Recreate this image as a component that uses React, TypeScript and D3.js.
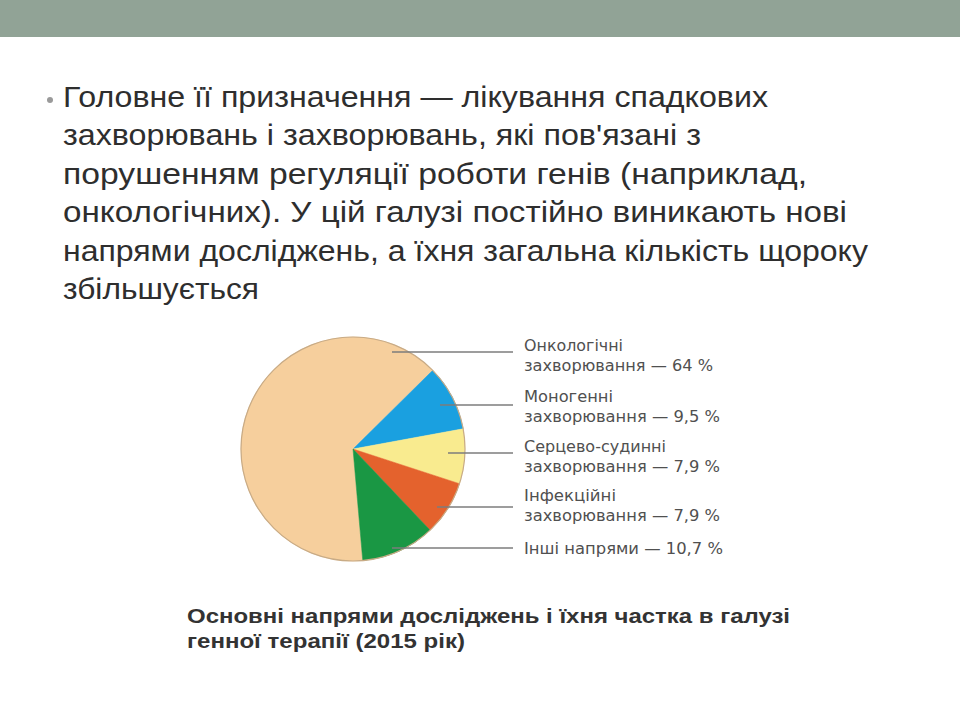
import React from "react";
import * as d3 from "d3";

const bodyLines = [
  "Головне її призначення — лікування спадкових",
  "захворювань і захворювань, які пов'язані з",
  "порушенням регуляції роботи генів (наприклад,",
  "онкологічних). У цій галузі постійно виникають нові",
  "напрями досліджень, а їхня загальна кількість щороку",
  "збільшується",
];
const bodyWidths = [705, 638, 744, 784, 805, 196];

const categories = [
  "Онкологічні захворювання",
  "Моногенні захворювання",
  "Серцево-судинні захворювання",
  "Інфекційні захворювання",
  "Інші напрями",
];
const values = [64, 9.5, 7.9, 7.9, 10.7];
const valueLabels = ["64", "9,5", "7,9", "7,9", "10,7"];
const labelLines: string[][] = [
  ["Онкологічні", "захворювання — 64 %"],
  ["Моногенні", "захворювання — 9,5 %"],
  ["Серцево-судинні", "захворювання — 7,9 %"],
  ["Інфекційні", "захворювання — 7,9 %"],
  ["Інші напрями — 10,7 %"],
];
const labelWidths: number[][] = [
  [99, 189],
  [89, 196],
  [142, 196],
  [92, 196],
  [199],
];
const captionLines = [
  "Основні напрями досліджень і їхня частка в галузі",
  "генної терапії (2015 рік)",
];
const captionWidths = [603, 278];

// layout / style
const colors = ["#F6CF9D", "#1AA0E0", "#F9EB8F", "#E4622D", "#1A9744"];
const leaderY = [352, 405, 453, 507, 548];
const leaderX0 = [392, 440, 448, 437, 392];
const labelBase = [351, 402, 452, 501, 554];

export default function App() {
  const cx = 353;
  const cy = 449;
  const r = 112;
  const deg = Math.PI / 180;
  const pie = d3
    .pie<number>()
    .sort(null)
    .value((d) => d)
    .startAngle(-185 * deg)
    .endAngle(175 * deg);
  const arcs = pie(values);
  const arc = d3.arc<d3.PieArcDatum<number>>().innerRadius(0).outerRadius(r);

  return (
    <svg
      width={960}
      height={720}
      style={{ position: "absolute", left: 0, top: 0, background: "#fff" }}
      fontFamily="'Liberation Sans', Arial, sans-serif"
    >
      <rect x={0} y={0} width={960} height={37} fill="#91A396" />
      <circle cx={50} cy={100} r={3} fill="#9a9a9a" />
      {bodyLines.map((t, i) => (
        <text
          key={i}
          x={63}
          y={107 + i * 38.4}
          fontSize={29}
          fill="#2e2e2e"
          textLength={bodyWidths[i]}
          lengthAdjust="spacingAndGlyphs"
        >
          {t}
        </text>
      ))}
      <g transform={`translate(${cx},${cy})`}>
        {arcs.map((a, i) => (
          <path key={i} d={arc(a) || ""} fill={colors[i]} stroke={colors[i]} strokeWidth={0.5}>
            <title>{`${categories[i]} — ${valueLabels[i]} %`}</title>
          </path>
        ))}
        <circle r={r} fill="none" stroke="#C8AB86" strokeWidth={1.2} />
      </g>
      {leaderY.map((y, i) => (
        <line
          key={i}
          x1={leaderX0[i]}
          x2={513}
          y1={y}
          y2={y}
          stroke="#7d7d7d"
          strokeWidth={1.6}
        />
      ))}
      {labelLines.map((lines, i) =>
        lines.map((t, j) => (
          <text
            key={`${i}-${j}`}
            x={524}
            y={labelBase[i] + j * 20}
            fontSize={15}
            fill="#505050"
            fontFamily="'DejaVu Sans', sans-serif"
            textLength={labelWidths[i][j]}
            lengthAdjust="spacingAndGlyphs"
          >
            {t}
          </text>
        ))
      )}
      {captionLines.map((t, i) => (
        <text
          key={i}
          x={187}
          y={623 + i * 25}
          fontSize={21}
          fontWeight="bold"
          fill="#333"
          textLength={captionWidths[i]}
          lengthAdjust="spacingAndGlyphs"
        >
          {t}
        </text>
      ))}
    </svg>
  );
}
